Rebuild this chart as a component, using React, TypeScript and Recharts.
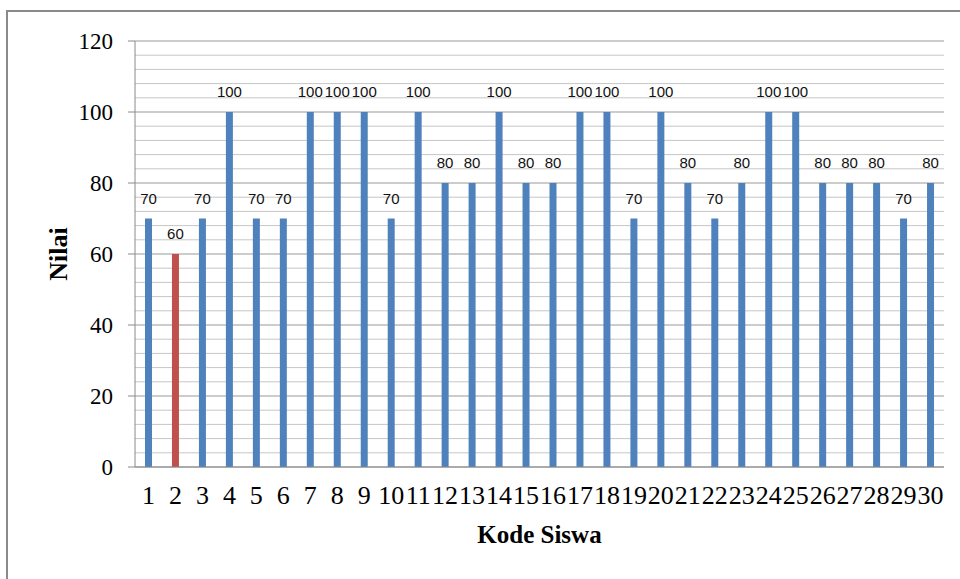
import { BarChart, Bar, XAxis, YAxis, CartesianGrid, LabelList, Label, Cell } from 'recharts';

// Kode siswa 1..30 and their scores
const kodeSiswa = [
    '1', '2', '3', '4', '5', '6', '7', '8', '9', '10',
    '11', '12', '13', '14', '15', '16', '17', '18', '19', '20',
    '21', '22', '23', '24', '25', '26', '27', '28', '29', '30',
];
const nilai = [
    70, 60, 70, 100, 70, 70, 100, 100, 100, 70,
    100, 80, 80, 100, 80, 80, 100, 100, 70, 100,
    80, 70, 80, 100, 100, 80, 80, 80, 70, 80,
];
const majorTicks = [0, 20, 40, 60, 80, 100, 120];
const minorTicks = [
    4, 8, 12, 16, 24, 28, 32, 36, 44, 48, 52, 56, 64, 68, 72, 76,
    84, 88, 92, 96, 104, 108, 112, 116,
];
const batasNilai = 70;

const data = kodeSiswa.map((kode, i) => ({ kode, nilai: nilai[i] }));

const BLUE = '#4F81BD';
const RED = '#C0504D';

// minor grid lines go through the y scale of the axis
const minorGrid = ({ yAxis }: any) => {
    const s = yAxis?.scale;
    if (!s) return [];
    return minorTicks.map((v) => (typeof s === 'function' ? s(v) : s.map(v)));
};

function YTitle({ viewBox }: any) {
    const cx = viewBox.x + 58;
    const cy = viewBox.y + viewBox.height / 2;
    return (
        <text
            x={cx}
            y={cy}
            transform={`rotate(-90, ${cx}, ${cy})`}
            textAnchor="middle"
            dominantBaseline="central"
            fontFamily="'Liberation Serif', serif"
            fontWeight="bold"
            fontSize={26}
            fill="#000"
        >
            Nilai
        </text>
    );
}

export default function App() {
    return (
        <div
            style={{
                position: 'absolute',
                left: 0,
                top: 0,
                width: 960,
                height: 579,
                overflow: 'hidden',
                background: '#fff',
                fontFamily: "'Liberation Serif', serif",
            }}
        >
            {/* outer frame, runs off the right and bottom edge */}
            <div
                style={{
                    position: 'absolute',
                    left: 6,
                    top: 10,
                    width: 980,
                    height: 600,
                    border: '2px solid #8a8a8a',
                    boxSizing: 'border-box',
                }}
            />
            <BarChart
                width={960}
                height={579}
                data={data}
                margin={{ top: 41, right: 16, bottom: 0, left: 0 }}
                style={{ position: 'absolute', left: 0, top: 0 }}
            >
                <CartesianGrid vertical={false} horizontalCoordinatesGenerator={minorGrid} stroke="#c6c6c6" />
                <CartesianGrid vertical={false} stroke="#999999" />
                <XAxis
                    dataKey="kode"
                    interval={0}
                    height={112}
                    tickLine={false}
                    tickSize={0}
                    tickMargin={19}
                    axisLine={{ stroke: '#8a8a8a' }}
                    tick={{ fontSize: 26, fill: '#000', fontFamily: "'Liberation Serif', serif" }}
                >
                    <Label
                        value="Kode Siswa"
                        position="insideBottom"
                        offset={36}
                        style={{ fontSize: 25, fontWeight: 'bold', fill: '#000', fontFamily: "'Liberation Serif', serif" }}
                    />
                </XAxis>
                <YAxis
                    domain={[0, 120]}
                    ticks={majorTicks}
                    width={135}
                    tickSize={7}
                    tickMargin={15}
                    axisLine={{ stroke: '#8a8a8a' }}
                    tickLine={{ stroke: '#8a8a8a' }}
                    tick={{ fontSize: 23, fill: '#000', fontFamily: "'Liberation Serif', serif" }}
                    label={<YTitle />}
                />
                <Bar dataKey="nilai" barSize={7} isAnimationActive={false}>
                    {data.map((d) => (
                        <Cell key={d.kode} fill={d.nilai < batasNilai ? RED : BLUE} />
                    ))}
                    <LabelList
                        dataKey="nilai"
                        position="top"
                        offset={15}
                        style={{ fontSize: 15, fill: '#111', fontFamily: "'Liberation Sans', sans-serif" }}
                    />
                </Bar>
            </BarChart>
        </div>
    );
}
